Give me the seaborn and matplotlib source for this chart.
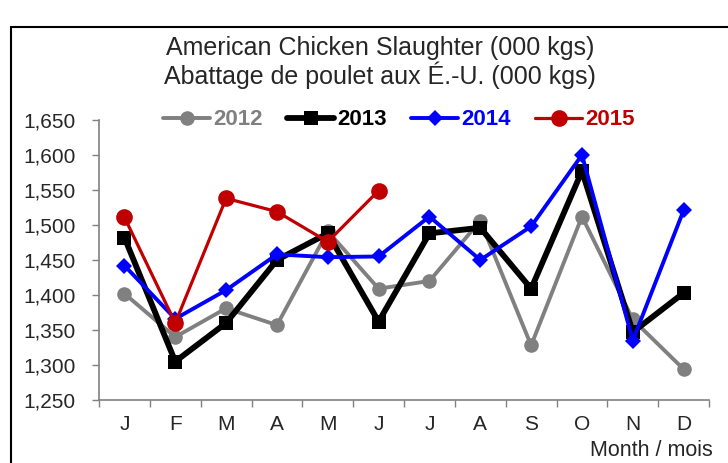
import numpy as np
import matplotlib
matplotlib.use("Agg")
import matplotlib.pyplot as plt
import matplotlib.patches as mpatches
from matplotlib.ticker import FuncFormatter, MultipleLocator
import seaborn as sns

# Data
months = ["J", "F", "M", "A", "M", "J", "J", "A", "S", "O", "N", "D"]
y2012 = [1402, 1340, 1381, 1357, 1491, 1409, 1420, 1506, 1328, 1512, 1365, 1294]
y2013 = [1482, 1305, 1360, 1450, 1488, 1362, 1488, 1496, 1409, 1577, 1347, 1403]
y2014 = [1442, 1366, 1407, 1458, 1454, 1455, 1512, 1450, 1498, 1600, 1335, 1521]
y2015 = [1511, 1360, 1538, 1519, 1476, 1549]

sns.set_theme(style="white")
plt.rcParams["font.family"] = ["Liberation Sans", "DejaVu Sans"]

fig = plt.figure(figsize=(7.28, 4.63), dpi=100)
ax = fig.add_axes([0.136, 0.136, 0.838, 0.605])

x_all = np.arange(len(months))
series = [
    ("2012", y2012, "#808080", "o", 10.5, 2.8),
    ("2013", y2013, "#000000", "s", 9.5, 4.2),
    ("2014", y2014, "#0000FF", "D", 8.5, 2.8),
    ("2015", y2015, "#C00000", "o", 12, 2.3),
]
for label, vals, color, mk, ms, lw in series:
    sns.lineplot(x=x_all[:len(vals)], y=vals, ax=ax, color=color, marker=mk,
                 markersize=ms, linewidth=lw, markeredgewidth=0,
                 label=label, sort=False)

ax.set_xlim(-0.5, 11.5)
ax.set_ylim(1250, 1650)
ax.yaxis.set_major_locator(MultipleLocator(50))
ax.yaxis.set_major_formatter(FuncFormatter(lambda v, p: f"{int(v):,}"))
ax.set_xticks(x_all)
ax.set_xticklabels(months)
ax.set_xticks(np.arange(-0.5, 12, 1), minor=True)
ax.tick_params(axis="x", which="major", length=0, pad=11, labelsize=15)
ax.tick_params(axis="x", which="minor", length=5, color="#808080", width=1, direction="out", bottom=True)
ax.tick_params(axis="y", length=5, color="#808080", width=1, direction="out", left=True, labelsize=15, pad=12)

for side in ["top", "right"]:
    ax.spines[side].set_visible(False)
for side in ["left", "bottom"]:
    ax.spines[side].set_color("#808080")
    ax.spines[side].set_linewidth(1.2)

ax.set_xlabel("")
ax.set_ylabel("")

leg = ax.legend(loc="center", bbox_to_anchor=(0.492, 1.0), ncol=4, frameon=False,
                handlelength=2.1, columnspacing=1.1, handletextpad=0.15,
                prop={"weight": "bold", "size": 16})
for text, (_, _, color, _, _, _) in zip(leg.get_texts(), series):
    text.set_color(color)

fig.text(0.522, 0.897, "American Chicken Slaughter (000 kgs)", ha="center", va="center", fontsize=18)
fig.text(0.522, 0.838, "Abattage de poulet aux É.-U. (000 kgs)", ha="center", va="center", fontsize=18)
fig.text(0.979, 0.027, "Month / mois", ha="right", va="center", fontsize=15.5)

border = mpatches.Rectangle((0.015, -0.05), 1.1, 0.992, transform=fig.transFigure,
                            fill=False, edgecolor="black", linewidth=1.5, clip_on=False)
fig.add_artist(border)

fig.savefig("out.png", dpi=100, facecolor="white")
